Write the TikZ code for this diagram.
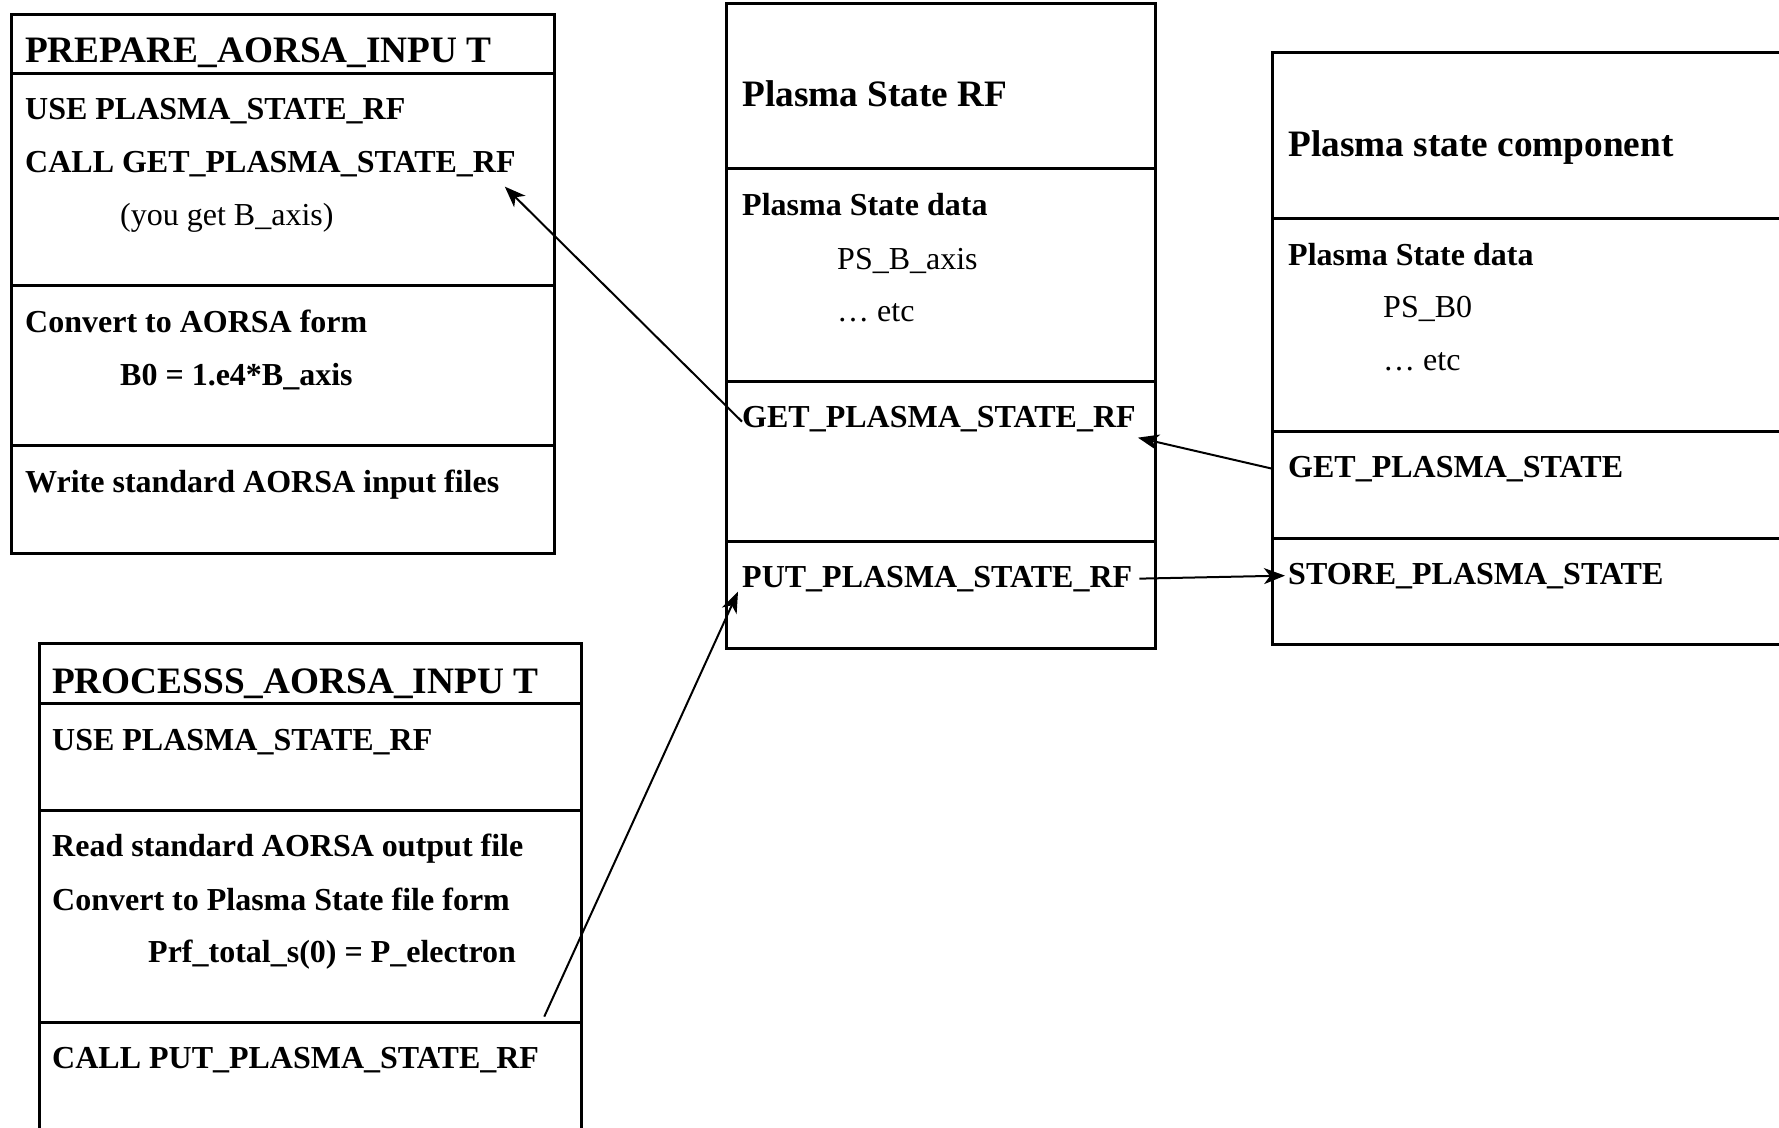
\documentclass[tikz,border=0pt]{standalone}
\usepackage{fontspec}
\setmainfont{Liberation Serif}
\usetikzlibrary{arrows.meta}
\begin{document}
\begin{tikzpicture}[x=1pt,y=-1pt,
  frame/.style={line width=3pt, line cap=rect},
  hd/.style={font=\fontsize{37.3}{44}\selectfont\bfseries, anchor=base west, inner sep=0pt},
  txt/.style={font=\fontsize{32}{38}\selectfont\bfseries, anchor=base west, inner sep=0pt},
  rtxt/.style={font=\fontsize{32}{38}\selectfont, anchor=base west, inner sep=0pt},
  link/.style={line width=2pt, -{Stealth[length=21pt,width=16pt,inset=6pt]}}]
\useasboundingbox (0,0) rectangle (1779,1127);
\clip (0,0) rectangle (1779,1127);

% PREPARE_AORSA_INPUT
\draw[frame] (11,14) rectangle (554,553);
\foreach \y in {73,285,445} \draw[frame] (11,\y) -- (554,\y);
\node[hd]   (prephd)  at (25,62)   {PREPARE\_AORSA\_INPU T};
\node[txt]  (prepuse) at (25,119)  {USE PLASMA\_STATE\_RF};
\node[txt]  (callget) at (25,172)  {CALL GET\_PLASMA\_STATE\_RF};
\node[rtxt] (youget)  at (120,225) {(you get B\_axis)};
\node[txt]  (conv)    at (25,332)  {Convert to AORSA form};
\node[txt]  (bzero)   at (120,385) {B0 = 1.e4*B\_axis};
\node[txt]  (write)   at (25,492)  {Write standard AORSA input files};

% Plasma State RF
\draw[frame] (726,3) rectangle (1155,648);
\foreach \y in {168,381,541} \draw[frame] (726,\y) -- (1155,\y);
\node[hd]   (rfhd)   at (742,106) {Plasma State RF};
\node[txt]  (rfdata) at (742,215) {Plasma State data};
\node[rtxt] (psb)    at (837,269) {PS\_B\_axis};
\node[rtxt] (rfetc)  at (837,321) {\dots{} etc};
\node[txt]  (getrf)  at (742,427) {GET\_PLASMA\_STATE\_RF};
\node[txt]  (putrf)  at (742,587) {PUT\_PLASMA\_STATE\_RF};

% Plasma state component
\draw[frame] (1272,52) rectangle (1790,644);
\foreach \y in {218,431,538} \draw[frame] (1272,\y) -- (1790,\y);
\node[hd]   (pshd)   at (1288,156) {Plasma state component};
\node[txt]  (psdata) at (1288,265) {Plasma State data};
\node[rtxt] (psbz)   at (1383,317) {PS\_B0};
\node[rtxt] (psetc)  at (1383,370) {\dots{} etc};
\node[txt]  (getps)  at (1288,477) {GET\_PLASMA\_STATE};
\node[txt]  (store)  at (1288,584) {STORE\_PLASMA\_STATE};

% PROCESSS_AORSA_INPUT
\draw[frame] (39,1140) -- (39,643) -- (581,643) -- (581,1140);
\foreach \y in {703,810,1022} \draw[frame] (39,\y) -- (581,\y);
\node[hd]  (prochd)  at (52,693)  {PROCESSS\_AORSA\_INPU T};
\node[txt] (procuse) at (52,750)  {USE PLASMA\_STATE\_RF};
\node[txt] (readout) at (52,856)  {Read standard AORSA output file};
\node[txt] (convps)  at (52,910)  {Convert to Plasma State file form};
\node[txt] (prf)     at (148,962) {Prf\_total\_s(0) = P\_electron};
\node[txt] (callput) at (52,1068) {CALL PUT\_PLASMA\_STATE\_RF};

% calls between the modules
\draw[link] ([yshift=-3pt]getrf.west) -- ([shift={(-11,10)}]callget.south east);
\draw[link] ([xshift=-16pt]getps.west) -- ([shift={(2,6)}]getrf.south east);
\draw[link] ([xshift=7pt]putrf.east) -- ([xshift=-3pt]store.west);
\draw[link] ([shift={(5,-30)}]callput.north east) -- ([shift={(-4,0)}]putrf.south west);
\end{tikzpicture}
\end{document}
